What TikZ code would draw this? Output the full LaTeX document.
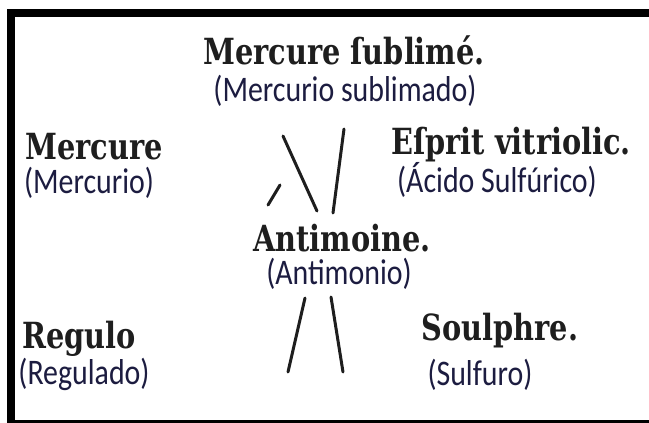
\documentclass[tikz,border=0pt]{standalone}
\usepackage{fontspec}
\newfontfamily\oldfont[FakeStretch=0.8]{DejaVu Serif}
\newfontfamily\transfont[FakeStretch=0.83]{Carlito}
\definecolor{ink}{RGB}{30,30,30}
\definecolor{transink}{RGB}{28,28,64}
\tikzset{
  oldtxt/.style={anchor=base, inner sep=0pt, text=ink, font=\oldfont\bfseries\fontsize{36}{38}\selectfont},
  transtxt/.style={anchor=base, inner sep=0pt, text=transink, font=\transfont\fontsize{36}{38}\selectfont},
  stroke/.style={draw=ink, line width=3pt, line cap=round},
  frame/.style={fill=black, draw=none}
}
\begin{document}
\begin{tikzpicture}[x=1pt,y=-1pt]
\useasboundingbox (0,0) rectangle (649,423);
\fill[white] (0,0) rectangle (649,423);
% frame
\path[frame] (7,9) rectangle (15,423);
\path[frame] (7,9) rectangle (649,17);
\path[frame] (7,420) rectangle (649,423);
% texts
\node[oldtxt]   (ms)  at (344,64)  {Mercure ſublimé.};
\node[transtxt] (msT) at (345,101) {(Mercurio sublimado)};
\node[oldtxt]   (m)   at (94,159)  {Mercure};
\node[transtxt] (mT)  at (89,193)  {(Mercurio)};
\node[oldtxt]   (e)   at (511,154) {Eſprit vitriolic.};
\node[transtxt] (eT)  at (497,192) {(Ácido Sulfúrico)};
\node[oldtxt]   (a)   at (342,251) {Antimoine.};
\node[transtxt] (aT)  at (339,284) {(Antimonio)};
\node[oldtxt]   (r)   at (79,348)  {Regulo};
\node[transtxt] (rT)  at (84,384)  {(Regulado)};
\node[oldtxt]   (s)   at (500,340) {Soulphre.};
\node[transtxt] (sT)  at (480,385) {(Sulfuro)};
% strokes
\coordinate (u1a) at (283,136); \coordinate (u1b) at (317,211);
\coordinate (u2a) at (344,129); \coordinate (u2b) at (333,213);
\coordinate (u3a) at (280,185); \coordinate (u3b) at (268,205);
\coordinate (l1a) at (305,298); \coordinate (l1b) at (288,372);
\coordinate (l2a) at (331,297); \coordinate (l2b) at (343,372);
\draw[stroke] (u1a) -- (u1b);
\draw[stroke] (u2a) -- (u2b);
\draw[stroke] (u3a) -- (u3b);
\draw[stroke] (l1a) -- (l1b);
\draw[stroke] (l2a) -- (l2b);
\end{tikzpicture}
\end{document}
